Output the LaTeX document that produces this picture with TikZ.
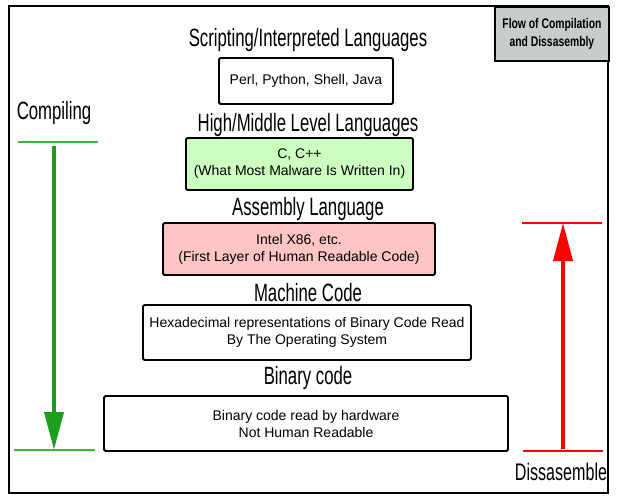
\documentclass[tikz,border=0pt]{standalone}
\usepackage{fontspec}
\setmainfont{Liberation Sans}
\newfontfamily\headfont[FakeStretch=0.67]{Liberation Sans}
\newfontfamily\titlefont[FakeStretch=0.74]{Liberation Sans}
\usetikzlibrary{arrows.meta}
\definecolor{gfill}{HTML}{CCFFC0}
\definecolor{rfill}{HTML}{FFC4C4}
\definecolor{tfill}{HTML}{C8CCCC}
\definecolor{garrow}{HTML}{1E9E1E}
\definecolor{gline}{HTML}{3CB83C}
\begin{document}
\begin{tikzpicture}[x=1pt,y=-1pt,
  layerbox/.style={draw=black,line width=1.8pt,rounded corners=1.5pt,align=center,
    font=\fontsize{14}{17}\selectfont,inner sep=0pt},
  heading/.style={font=\headfont\fontsize{25}{27}\selectfont,inner sep=0pt},
  marker/.style={line width=1.2pt},
  flowarrow/.style={line width=4pt,-{Triangle[width=19pt,length=38pt]}}]
\useasboundingbox (0,0) rectangle (617,502);
\draw[line width=2.5pt] (9,6) rectangle (608,493);
\node[draw=black,line width=1.8pt,fill=tfill,minimum width=114pt,minimum height=54pt,
  anchor=north west,inner sep=0pt,align=center,
  font=\titlefont\bfseries\fontsize{14}{17.5}\selectfont] (title) at (494,6)
  {Flow of Compilation\\and Dissasembly};
\node[heading] (h1) at (308,40) {Scripting/Interpreted Languages};
\node[layerbox,minimum width=174pt,minimum height=46pt] (b1) at (306,81) {Perl, Python, Shell, Java};
\node[heading] (h2) at (308,125) {High/Middle Level Languages};
\node[layerbox,fill=gfill,minimum width=227pt,minimum height=52pt] (b2) at (299.5,164) {C, C++\\(What Most Malware Is Written In)};
\node[heading] (h3) at (308,209) {Assembly Language};
\node[layerbox,fill=rfill,minimum width=272pt,minimum height=52pt] (b3) at (299,249) {Intel X86, etc.\\(First Layer of Human Readable Code)};
\node[heading] (h4) at (308,293) {Machine Code};
\node[layerbox,minimum width=328pt,minimum height=55pt] (b4) at (307,332.5) {Hexadecimal representations of Binary Code Read\\By The Operating System};
\node[heading] (h5) at (308,378) {Binary code};
\node[layerbox,minimum width=404pt,minimum height=55pt] (b5) at (306,423.5) {Binary code read by hardware\\Not Human Readable};
\node[heading] (comp) at (54,113) {Compiling};
\node[heading,font=\headfont\fontsize{24}{26}\selectfont] (dis) at (561,472) {Dissasemble};
\coordinate (gt1) at (18,142); \coordinate (gt2) at (98,142);
\coordinate (gb1) at (14,450); \coordinate (gb2) at (95,450);
\coordinate (gs) at (54,146); \coordinate (ge) at (54,450);
\draw[marker,gline] (gt1) -- (gt2);
\draw[marker,gline] (gb1) -- (gb2);
\draw[flowarrow,garrow] (gs) -- (ge);
\coordinate (rt1) at (522,223); \coordinate (rt2) at (602,223);
\coordinate (rb1) at (523,451); \coordinate (rb2) at (603,451);
\coordinate (rs) at (563,449); \coordinate (re) at (563,223);
\draw[marker,red] (rt1) -- (rt2);
\draw[marker,red] (rb1) -- (rb2);
\draw[flowarrow,red] (rs) -- (re);
\end{tikzpicture}
\end{document}
